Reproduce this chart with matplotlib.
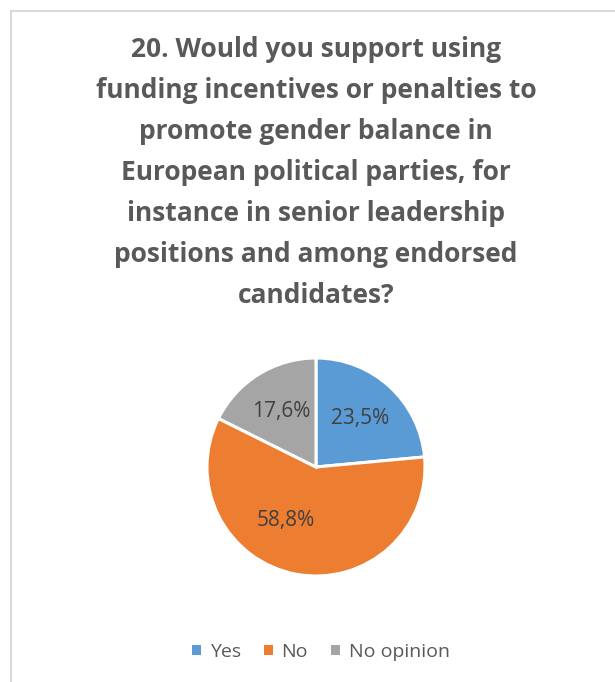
import matplotlib as mpl
mpl.use('AGG')
import matplotlib.pyplot as plt
from matplotlib.lines import Line2D

mpl.rc('font', **{'family': ['Open Sans', 'DejaVu Sans']})

# survey answers (17 responses)
categories = ['Yes', 'No', 'No opinion']
counts = [4, 10, 3]
colors = ['#5B9BD5', '#ED7D31', '#A5A5A5']
title_text = ('20. Would you support using\n'
              'funding incentives or penalties to\n'
              'promote gender balance in\n'
              'European political parties, for\n'
              'instance in senior leadership\n'
              'positions and among endorsed\n'
              'candidates?')

W, H = 615, 682
fig = plt.figure(figsize=(W / 100.0, H / 100.0), dpi=100)
fig.patch.set_facecolor('white')

# chart border (only top and left visible in the crop)
fig.add_artist(Line2D([11.0 / W, 1.0], [1 - 11.0 / H, 1 - 11.0 / H], color='#D9D9D9', lw=1.5))
fig.add_artist(Line2D([11.0 / W, 11.0 / W], [0.0, 1 - 11.0 / H], color='#D9D9D9', lw=1.5))

fig.text(316.0 / W, 1 - 36.0 / H, title_text, ha='center', va='top',
         fontsize=19, fontweight='bold', color='#595959', linespacing=1.67)

cx, cy, r = 316, 467, 109
ax = fig.add_axes([(cx - r) / W, (H - cy - r) / H, 2 * r / W, 2 * r / H])
wedges, texts, autotexts = ax.pie(
    counts, colors=colors, startangle=90, counterclock=False,
    autopct=lambda p: ('%.1f%%' % p).replace('.', ','), pctdistance=0.6,
    wedgeprops={'edgecolor': 'white', 'linewidth': 2.2},
    textprops={'fontsize': 15, 'color': '#404040'})
# Excel puts the big slice's label a bit further round
autotexts[1].set_position((-0.28, -0.49))
ax.set_xlim(-1, 1)
ax.set_ylim(-1, 1)
ax.set_aspect('equal')
ax.axis('off')

handles = [mpl.patches.Patch(facecolor=c, edgecolor='none') for c in colors]
fig.legend(handles, categories, loc='center', bbox_to_anchor=(321.0 / W, 1 - 652.0 / H),
           ncol=3, frameon=False, fontsize=14, labelcolor='#595959',
           handlelength=0.45, handleheight=0.45, handletextpad=0.45, columnspacing=1.2)

fig.savefig('out.png', dpi=100, facecolor='white')
